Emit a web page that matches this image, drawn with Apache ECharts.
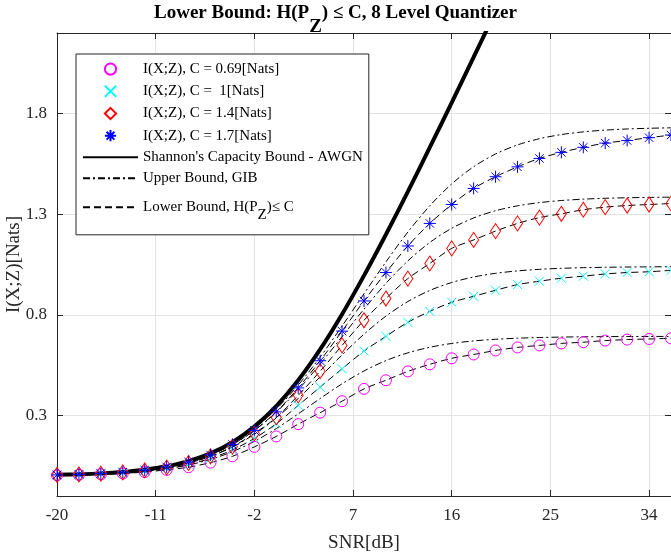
<!DOCTYPE html>
<html>
<head>
<meta charset="utf-8">
<script src="https://cdn.jsdelivr.net/npm/echarts@6/dist/echarts.min.js"></script>
<style>
html,body{margin:0;padding:0;background:#fff;}
#chart{width:671px;height:556px;}
</style>
</head>
<body>
<div id="chart"></div>
<script>
// ---- data ----
const snr = [-20,-18,-16,-14,-12,-10,-8,-6,-4,-2,0,2,4,6,8,10,12,14,16,18,20,22,24,26,28,30,32,34,36];
const xTicks = [-20,-11,-2,7,16,25,34];
const yTicks = [0.3,0.8,1.3,1.8];

const shannon = [0.0050,0.0079,0.0124,0.0195,0.0306,0.0477,0.0736,0.1120,0.1676,0.2446,0.3466,0.4748,0.6281,0.8028,0.9946,1.1989,1.4121,1.6313,1.8545,2.0802,2.3076];

const upper069 = [0.0037,0.0059,0.0093,0.0146,0.0228,0.0353,0.0541,0.0816,0.1202,0.1713,0.2350,0.3080,0.3843,0.4574,0.5212,0.5726,0.6112,0.6388,0.6577,0.6703,0.6785,0.6838,0.6872,0.6894,0.6908,0.6917,0.6922,0.6926,0.6928];
const upper1   = [0.0044,0.0069,0.0108,0.0170,0.0267,0.0414,0.0637,0.0966,0.1433,0.2066,0.2877,0.3845,0.4915,0.6009,0.7038,0.7935,0.8660,0.9210,0.9606,0.9879,1.0062,1.0182,1.0260,1.0310,1.0342,1.0362,1.0375,1.0383,1.0388];
const upper14  = [0.0047,0.0074,0.0116,0.0183,0.0286,0.0445,0.0686,0.1043,0.1553,0.2252,0.3163,0.4276,0.5552,0.6917,0.8284,0.9562,1.0679,1.1594,1.2298,1.2812,1.3171,1.3414,1.3574,1.3678,1.3746,1.3789,1.3816,1.3833,1.3844];
const upper17  = [0.0048,0.0076,0.0120,0.0189,0.0296,0.0461,0.0711,0.1081,0.1614,0.2348,0.3312,0.4507,0.5903,0.7442,0.9046,1.0630,1.2110,1.3416,1.4503,1.5356,1.5990,1.6441,1.6749,1.6955,1.7089,1.7176,1.7232,1.7267,1.7290];

const mi069 = [0.003,0.005,0.008,0.012,0.019,0.030,0.043,0.066,0.097,0.144,0.196,0.257,0.314,0.371,0.432,0.475,0.519,0.554,0.584,0.603,0.623,0.638,0.648,0.658,0.664,0.672,0.677,0.680,0.683];
const mi1   = [0.004,0.006,0.010,0.015,0.024,0.037,0.057,0.087,0.129,0.186,0.259,0.350,0.441,0.532,0.620,0.693,0.763,0.817,0.862,0.892,0.922,0.950,0.967,0.982,0.992,1.003,1.010,1.014,1.021];
const mi14  = [0.0044,0.0069,0.0109,0.0171,0.0268,0.0416,0.064,0.097,0.145,0.211,0.290,0.400,0.520,0.648,0.773,0.881,0.980,1.055,1.130,1.172,1.216,1.254,1.283,1.302,1.322,1.335,1.343,1.348,1.353];
const mi17  = [0.0047,0.0074,0.0116,0.0183,0.0286,0.0445,0.0686,0.104,0.156,0.226,0.318,0.437,0.572,0.719,0.869,1.010,1.142,1.254,1.348,1.428,1.486,1.535,1.577,1.607,1.632,1.653,1.666,1.680,1.693];

const N1 = 'I(X;Z), C = 0.69[Nats]';
const N2 = 'I(X;Z), C =  1[Nats]';
const N3 = 'I(X;Z), C = 1.4[Nats]';
const N4 = 'I(X;Z), C = 1.7[Nats]';
const NS = "Shannon's Capacity Bound - AWGN";
const NU = 'Upper Bound, GIB';
const NL = 'Lower Bound, H(P_Z)≤ C';

// ---- chart ----
const FONT = '"Liberation Serif","Times New Roman",serif';
const AX = '#262626';
const pts = ys => ys.map((y, i) => [snr[i], y]);

const upperStyle = {color: '#000', width: 1, type: [7, 3, 2, 3]};
const lowerStyle = {color: '#000', width: 1, type: [7, 4]};

function boundLine(name, ys, style) {
  return {type: 'line', name: name, data: pts(ys), symbol: 'none', smooth: 0.3,
          lineStyle: style, z: 2, silent: true};
}
function markerSeries(name, ys, symbol, size, color) {
  return {type: 'line', name: name, data: pts(ys), symbol: symbol, symbolSize: size,
          showSymbol: true, showAllSymbol: true,
          itemStyle: {color: 'none', borderColor: color, borderWidth: 1},
          lineStyle: {opacity: 0, width: 0}, z: 5, silent: true};
}

const crossPath = 'path://M0,0L10,10M10,0L0,10';
const starPath = 'path://M5,0L5,10M0,5L10,5M1.5,1.5L8.5,8.5M8.5,1.5L1.5,8.5';

const chart = echarts.init(document.getElementById('chart'), null, {renderer: 'canvas'});
chart.setOption({
  animation: false,
  backgroundColor: '#fff',
  title: {
    text: '{b|Lower Bound: H(P}{z|Z}{b|) ≤ C, 8 Level Quantizer}',
    left: 'center', top: 4, padding: [0, 0, 0, 57],
    textStyle: {
      rich: {
        b: {fontFamily: FONT, fontSize: 19, fontWeight: 'bold', color: '#000', lineHeight: 19},
        z: {fontFamily: FONT, fontSize: 19, fontWeight: 'bold', color: '#000', lineHeight: 19, padding: [27, 0, 0, 0]}
      }
    }
  },
  legend: {
    orient: 'vertical', left: 76, top: 54, z: 10,
    padding: [7, 6, 12, 6], itemGap: 6, itemWidth: 55, itemHeight: 14,
    backgroundColor: '#fff', borderColor: AX, borderWidth: 1,
    selectedMode: false,
    textStyle: {fontFamily: FONT, fontSize: 15, color: '#000',
      rich: {z: {fontFamily: FONT, fontSize: 15, color: '#000', lineHeight: 15, padding: [16, 0, 0, 0]}}},
    formatter: n => n === NL ? 'Lower Bound, H(P{z|Z})≤ C' : n,
    data: [N1, N2, N3, N4,
      {name: NS, itemStyle: {opacity: 0}},
      {name: NU, itemStyle: {opacity: 0}},
      {name: NL, itemStyle: {opacity: 0}}]
  },
  grid: {left: 57, right: 0, top: 33, bottom: 60, containLabel: false, outerBoundsMode: 'none'},
  xAxis: [{
    type: 'value', min: -20, max: 36, position: 'bottom',
    axisLine: {show: true, onZero: false, lineStyle: {color: AX, width: 1}},
    axisTick: {show: true, inside: true, length: 6, lineStyle: {color: AX}, customValues: xTicks},
    axisLabel: {customValues: xTicks, fontFamily: FONT, fontSize: 17, color: AX, margin: 11},
    splitLine: {show: true, lineStyle: {color: '#e3e3e3', width: 1}},
    name: 'SNR[dB]', nameLocation: 'middle', nameGap: 38,
    nameTextStyle: {fontFamily: FONT, fontSize: 19, color: AX}
  }, {
    type: 'value', min: -20, max: 36, position: 'top',
    axisLine: {show: true, onZero: false, lineStyle: {color: AX, width: 1}},
    axisTick: {show: true, inside: true, length: 6, lineStyle: {color: AX}, customValues: xTicks},
    axisLabel: {show: false},
    splitLine: {show: false}
  }],
  yAxis: [{
    type: 'value', min: -0.1, max: 2.2, position: 'left',
    axisLine: {show: true, onZero: false, lineStyle: {color: AX, width: 1}},
    axisTick: {show: true, inside: true, length: 6, lineStyle: {color: AX}, customValues: yTicks},
    axisLabel: {customValues: yTicks, formatter: v => v.toFixed(1), fontFamily: FONT, fontSize: 17, color: AX, margin: 10},
    splitLine: {show: true, lineStyle: {color: '#e3e3e3', width: 1}},
    name: 'I(X;Z)[Nats]', nameLocation: 'middle', nameGap: 33, nameMoveOverlap: false,
    nameTextStyle: {fontFamily: FONT, fontSize: 19, color: AX}
  }, {
    type: 'value', min: -0.1, max: 2.2, position: 'right',
    axisLine: {show: true, onZero: false, lineStyle: {color: AX, width: 1}},
    axisTick: {show: true, inside: true, length: 6, lineStyle: {color: AX}, customValues: yTicks},
    axisLabel: {show: false},
    splitLine: {show: false}
  }],
  series: [
    boundLine(NU, upper069, upperStyle),
    boundLine(NU, upper1, upperStyle),
    boundLine(NU, upper14, upperStyle),
    boundLine(NU, upper17, upperStyle),
    boundLine(NL, mi069, lowerStyle),
    boundLine(NL, mi1, lowerStyle),
    boundLine(NL, mi14, lowerStyle),
    boundLine(NL, mi17, lowerStyle),
    {type: 'line', name: NS, data: pts(shannon), symbol: 'none', smooth: 0.3,
     lineStyle: {color: '#000', width: 4}, z: 3, silent: true, clip: true},
    markerSeries(N1, mi069, 'circle', 11, '#ff00ff'),
    markerSeries(N2, mi1, crossPath, 9, '#00ffff'),
    markerSeries(N3, mi14, 'diamond', [10, 15], '#ff0000'),
    markerSeries(N4, mi17, starPath, 12, '#0000ff')
  ]
});
</script>
</body>
</html>
